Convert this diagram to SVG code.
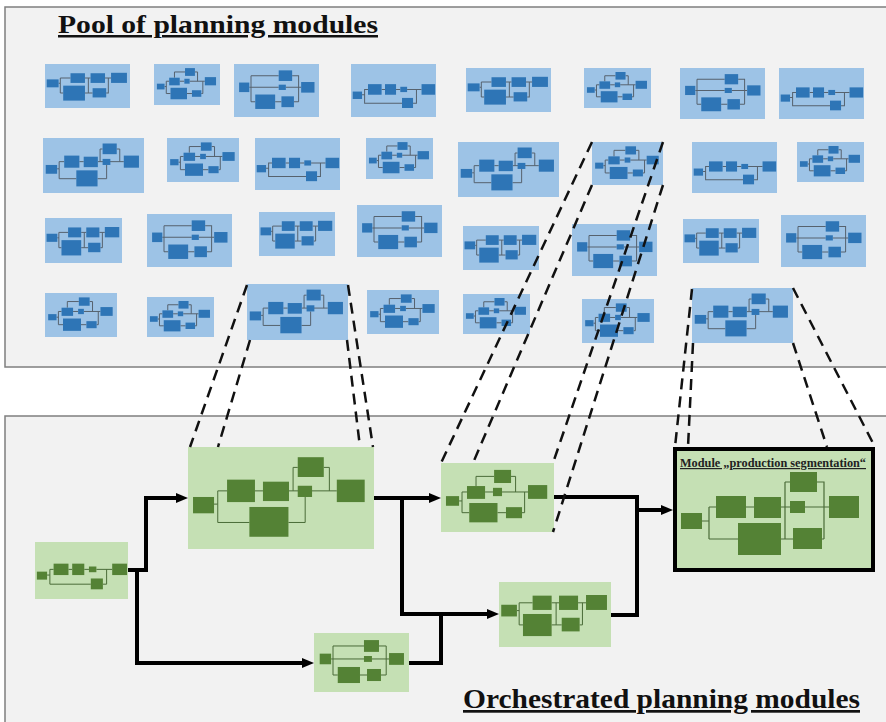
<svg xmlns="http://www.w3.org/2000/svg" xmlns:xlink="http://www.w3.org/1999/xlink" width="886" height="722" viewBox="0 0 886 722">
<style>
.panel{fill:#f2f2f2;stroke:#7f7f7f;stroke-width:1.5}
.bbg{fill:#9dc3e6}
.bin{fill:#2e75b6;stroke:#56626e}
.gbg{fill:#c5e0b4}
.gin{fill:#548235;stroke:#4a6b38}
.dash{fill:none;stroke:#111;stroke-width:2.5;stroke-dasharray:11 7}
.flow{fill:none;stroke:#000;stroke-width:4;stroke-linejoin:miter}
.title{font-family:"Liberation Serif","Times New Roman",serif;font-weight:bold;text-decoration:underline;fill:#111}
</style>
<defs>
<marker id="ah" markerUnits="strokeWidth" markerWidth="3" markerHeight="2.5" refX="1" refY="1.25" orient="auto" viewBox="0 0 3 2.5">
<path d="M0,0 L3,1.25 L0,2.5 z" fill="#000"/>
</marker>
<symbol id="tA" viewBox="0 0 100 50" preserveAspectRatio="none">
<path fill="none" stroke-width="1" vector-effect="non-scaling-stroke" d="M16,22 H18 M18,16 V33 M18,16 H30 M18,33 H21.4 M47,16 H53.6 M70.6,16 H77.7 M51,16 V33 M47,33 H56 M72,33 H74.5 V16"/>
<g stroke="none"><rect x="2" y="17.5" width="14" height="9"/><rect x="30" y="10.5" width="17" height="11"/><rect x="53.6" y="10.5" width="17" height="11"/><rect x="77.7" y="10" width="18.7" height="11.5"/><rect x="21.4" y="24.6" width="25.6" height="17"/><rect x="56" y="27.5" width="16" height="10.5"/></g>
</symbol>
<symbol id="tC" viewBox="0 0 100 50" preserveAspectRatio="none">
<path fill="none" stroke-width="1" vector-effect="non-scaling-stroke" d="M18,22 H20 M20,11 V35.6 M20,11 H52.6 M20,22 H52.6 M61,22 H79 M68.4,11 H76 V35.6 M70.5,35.6 H76 M20,35.6 H25 M48.4,35.6 H55.8"/>
<g stroke="none"><rect x="6" y="17.5" width="12" height="9"/><rect x="52.6" y="6" width="15.8" height="10"/><rect x="52.6" y="19.5" width="8.4" height="5"/><rect x="25" y="28.8" width="23.4" height="13.6"/><rect x="55.8" y="30.5" width="14.7" height="10.2"/><rect x="79" y="17" width="15.7" height="10"/></g>
</symbol>
<symbol id="tD" viewBox="0 0 100 50" preserveAspectRatio="none">
<path fill="none" stroke-width="1" vector-effect="non-scaling-stroke" d="M13,29 H16 V24 H20 M16,29 V37 H60 M36,24 H40 M53,24 H58 M66,24 H83 M73,37 H77 V24"/>
<g stroke="none"><rect x="2" y="26" width="11" height="7"/><rect x="20" y="19" width="16" height="10"/><rect x="40" y="19" width="13" height="10"/><rect x="58" y="21.5" width="8" height="5"/><rect x="83" y="19" width="16" height="10"/><rect x="60" y="32" width="13" height="9.5"/></g>
</symbol>
<symbol id="tE" viewBox="0 0 100 50" preserveAspectRatio="none">
<path fill="none" stroke-width="1" vector-effect="non-scaling-stroke" d="M14,28 H16 V21.5 H21 M16,28 V37 H33 M36,21.5 H40.3 M54.3,21.5 H80 M56.5,21.5 V10 H59 M73,10 H76 V21.5 M54,37 H63 V24.5"/>
<g stroke="none"><rect x="2.7" y="24.5" width="11.3" height="8"/><rect x="21" y="16" width="15" height="11"/><rect x="40.3" y="17" width="14" height="9.5"/><rect x="59" y="5" width="14" height="9.7"/><rect x="59" y="19" width="7.7" height="5.5"/><rect x="80" y="16" width="15" height="11"/><rect x="33" y="29.4" width="21" height="14.6"/></g>
</symbol>
<symbol id="tF" viewBox="0 0 100 50" preserveAspectRatio="none">
<path fill="none" stroke-width="1" vector-effect="non-scaling-stroke" d="M16,27.5 H18.6 M18.6,21 V36 M18.6,21 H23 M18.6,36 H25 M39,21 H46 M54,21 H77 M31,16.7 V9.7 H47 M62,9.7 H66 V21 M50,36 H57.5 M71.7,36 H74 V21"/>
<g stroke="none"><rect x="4.4" y="24" width="11.6" height="7"/><rect x="23" y="16.7" width="16" height="9.3"/><rect x="47" y="5" width="15" height="9.5"/><rect x="46" y="18" width="8" height="6"/><rect x="77" y="16" width="17" height="10"/><rect x="25" y="29" width="25" height="14"/><rect x="57.5" y="32" width="14.2" height="8"/></g>
</symbol>
</defs>

<rect x="0" y="0" width="886" height="722" fill="#ffffff"/>
<rect class="panel" x="5" y="7" width="900" height="360"/>
<rect class="panel" x="5" y="416" width="900" height="320"/>

<text class="title" x="58" y="33" font-size="25" textLength="320" lengthAdjust="spacingAndGlyphs">Pool of planning modules</text>
<text class="title" x="463" y="708" font-size="27" textLength="397" lengthAdjust="spacingAndGlyphs">Orchestrated planning modules</text>

<g id="pool">
<g id="m1"><rect class="bbg" x="45" y="64" width="85" height="44"/><use class="bin" href="#tA" x="45" y="64" width="85" height="44"/></g>
<g id="m2"><rect class="bbg" x="154" y="64" width="66" height="41"/><use class="bin" href="#tF" x="154" y="64" width="66" height="41"/></g>
<g id="m3"><rect class="bbg" x="234" y="64" width="85" height="53"/><use class="bin" href="#tC" x="234" y="64" width="85" height="53"/></g>
<g id="m4"><rect class="bbg" x="351" y="64" width="85" height="53"/><use class="bin" href="#tD" x="351" y="64" width="85" height="53"/></g>
<g id="m5"><rect class="bbg" x="466" y="68" width="85" height="44"/><use class="bin" href="#tA" x="466" y="68" width="85" height="44"/></g>
<g id="m6"><rect class="bbg" x="584" y="68" width="67" height="40"/><use class="bin" href="#tF" x="584" y="68" width="67" height="40"/></g>
<g id="m7"><rect class="bbg" x="680" y="68" width="85" height="51"/><use class="bin" href="#tC" x="680" y="68" width="85" height="51"/></g>
<g id="m8"><rect class="bbg" x="779" y="68" width="85" height="51"/><use class="bin" href="#tD" x="779" y="68" width="85" height="51"/></g>

<g id="n1"><rect class="bbg" x="43" y="138" width="101" height="55"/><use class="bin" href="#tE" x="43" y="138" width="101" height="55"/></g>
<g id="n2"><rect class="bbg" x="167" y="138" width="72" height="44"/><use class="bin" href="#tF" x="167" y="138" width="72" height="44"/></g>
<g id="n3"><rect class="bbg" x="255" y="138" width="85" height="52"/><use class="bin" href="#tD" x="255" y="138" width="85" height="52"/></g>
<g id="n4"><rect class="bbg" x="366" y="138" width="67" height="41"/><use class="bin" href="#tF" x="366" y="138" width="67" height="41"/></g>
<g id="n5"><rect class="bbg" x="458" y="142" width="101" height="55"/><use class="bin" href="#tE" x="458" y="142" width="101" height="55"/></g>
<g id="n6"><rect class="bbg" x="592" y="142" width="71" height="43"/><use class="bin" href="#tF" x="592" y="142" width="71" height="43"/></g>
<g id="n7"><rect class="bbg" x="692" y="142" width="85" height="51"/><use class="bin" href="#tD" x="692" y="142" width="85" height="51"/></g>
<g id="n8"><rect class="bbg" x="797" y="142" width="67" height="40"/><use class="bin" href="#tF" x="797" y="142" width="67" height="40"/></g>

<g id="r1"><rect class="bbg" x="45" y="218" width="77" height="45"/><use class="bin" href="#tA" x="45" y="218" width="77" height="45"/></g>
<g id="r2"><rect class="bbg" x="147" y="214" width="85" height="53"/><use class="bin" href="#tC" x="147" y="214" width="85" height="53"/></g>
<g id="r3"><rect class="bbg" x="259" y="212" width="76" height="44"/><use class="bin" href="#tA" x="259" y="212" width="76" height="44"/></g>
<g id="r4"><rect class="bbg" x="357" y="205" width="85" height="52"/><use class="bin" href="#tC" x="357" y="205" width="85" height="52"/></g>
<g id="r5"><rect class="bbg" x="463" y="226" width="76" height="44"/><use class="bin" href="#tA" x="463" y="226" width="76" height="44"/></g>
<g id="r6"><rect class="bbg" x="572" y="224" width="85" height="52"/><use class="bin" href="#tC" x="572" y="224" width="85" height="52"/></g>
<g id="r7"><rect class="bbg" x="683" y="219" width="76" height="44"/><use class="bin" href="#tA" x="683" y="219" width="76" height="44"/></g>
<g id="r8"><rect class="bbg" x="781" y="215" width="85" height="52"/><use class="bin" href="#tC" x="781" y="215" width="85" height="52"/></g>

<g id="s1"><rect class="bbg" x="45" y="293" width="72" height="44"/><use class="bin" href="#tF" x="45" y="293" width="72" height="44"/></g>
<g id="s2"><rect class="bbg" x="147" y="297" width="67" height="40"/><use class="bin" href="#tF" x="147" y="297" width="67" height="40"/></g>
<g id="s3"><rect class="bbg" x="247" y="284" width="101" height="56"/><use class="bin" href="#tE" x="247" y="284" width="101" height="56"/></g>
<g id="s4"><rect class="bbg" x="367" y="290" width="72" height="44"/><use class="bin" href="#tF" x="367" y="290" width="72" height="44"/></g>
<g id="s5"><rect class="bbg" x="463" y="294" width="67" height="40"/><use class="bin" href="#tF" x="463" y="294" width="67" height="40"/></g>
<g id="s6"><rect class="bbg" x="582" y="299" width="72" height="44"/><use class="bin" href="#tF" x="582" y="299" width="72" height="44"/></g>
<g id="s7"><rect class="bbg" x="692" y="288" width="101" height="55"/><use class="bin" href="#tE" x="692" y="288" width="101" height="55"/></g>
</g>

<g id="g0"><rect class="gbg" x="35" y="542" width="93" height="57"/><use class="gin" href="#tD" x="35" y="542" width="93" height="57"/></g>
<g id="g1"><rect class="gbg" x="188" y="447" width="186" height="102"/><use class="gin" href="#tE" x="188" y="447" width="186" height="102"/></g>
<g id="g2"><rect class="gbg" x="441" y="463" width="113" height="69"/><use class="gin" href="#tF" x="441" y="463" width="113" height="69"/></g>
<g id="g3"><rect class="gbg" x="499" y="582" width="112" height="65"/><use class="gin" href="#tA" x="499" y="582" width="112" height="65"/></g>
<g id="g4"><rect class="gbg" x="314" y="633" width="95" height="59"/><use class="gin" href="#tC" x="314" y="633" width="95" height="59"/></g>

<g id="final">
<rect x="675" y="449" width="198" height="121" fill="#c5e0b4" stroke="#000" stroke-width="4"/>
<text x="680" y="467" font-family="Liberation Serif, Times New Roman, serif" font-weight="bold" font-size="12" text-decoration="underline" fill="#222" textLength="186" lengthAdjust="spacingAndGlyphs">Module „production segmentation“</text>
<path fill="none" stroke="#4a6b38" stroke-width="1.2" d="M702,521 H709 M709,507 V539 M709,507 H716 M709,539 H738 M746,507 H754 M781,507 H829 M785,482 V539 M785,482 H790 M817,482 H824 V539 M781,539 H793 M822,539 H824"/>
<g fill="#548235"><rect x="681" y="513" width="21" height="16"/><rect x="716" y="496" width="30" height="22"/><rect x="754" y="497" width="27" height="21"/><rect x="790" y="472" width="27" height="20"/><rect x="790" y="501" width="15" height="12"/><rect x="793" y="528" width="29" height="21"/><rect x="738" y="523" width="43" height="32"/><rect x="829" y="496" width="30" height="22"/></g>
</g>

<g id="connectors">
<path class="flow" d="M128,570 H146 V498 H180" marker-end="url(#ah)"/>
<path class="flow" d="M137,570 V663 H306" marker-end="url(#ah)"/>
<path class="flow" d="M374,498 H433" marker-end="url(#ah)"/>
<path class="flow" d="M402,498 V614 H491" marker-end="url(#ah)"/>
<path class="flow" d="M409,663 H441 V614"/>
<path class="flow" d="M554,497 H637 V615 H611"/>
<path class="flow" d="M637,510 H665" marker-end="url(#ah)"/>
</g>

<g id="zoom-lines">
<path class="dash" d="M247,285 L190,447"/>
<path class="dash" d="M250,340 L218,447"/>
<path class="dash" d="M348,285 L373,447"/>
<path class="dash" d="M347,340 L360,447"/>
<path class="dash" d="M592,142 L441,463"/>
<path class="dash" d="M592,185 L473,463"/>
<path class="dash" d="M663,142 L553,463"/>
<path class="dash" d="M663,185 L553,532"/>
<path class="dash" d="M692,289 L675,447"/>
<path class="dash" d="M693,343 L688,447"/>
<path class="dash" d="M793,288 L875,447"/>
<path class="dash" d="M793,343 L827,447"/>
</g>
</svg>
